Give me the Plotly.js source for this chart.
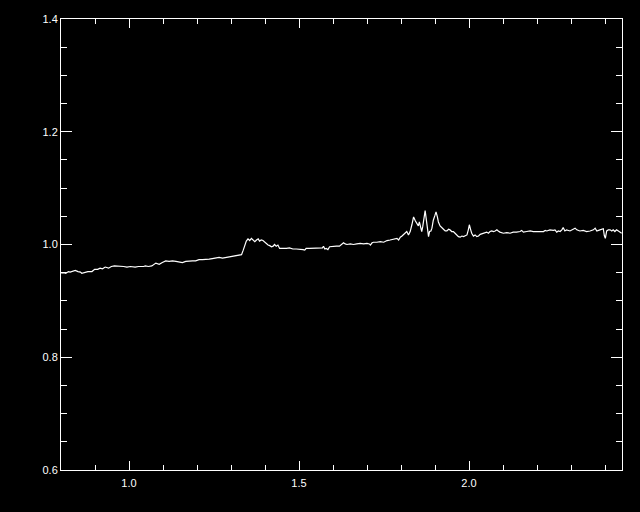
<!DOCTYPE html>
<html>
<head>
<meta charset="utf-8">
<script src="https://cdn.plot.ly/plotly-3.0.1.min.js"></script>
<style>html,body{margin:0;padding:0;background:#000;}#chart{width:640px;height:512px;}</style>
</head>
<body>
<div id="chart"></div>
<script>
// Wavelength (x) values
const wavelength = [
0.801,0.808,0.814,0.822,0.827,0.832,0.842,0.850,0.857,0.861,0.869,0.879,0.891,0.899,0.908,0.915,0.922,0.930,0.940,0.948,
0.957,0.964,0.974,0.984,0.994,1.004,1.018,1.028,1.043,1.048,1.057,1.067,1.079,1.089,1.098,1.108,1.118,1.128,1.138,1.148,
1.157,1.167,1.177,1.187,1.196,1.206,1.216,1.226,1.236,1.245,1.255,1.265,1.275,1.284,1.294,1.304,1.314,1.324,1.331,1.336,
1.339,1.343,1.345,1.350,1.355,1.360,1.365,1.370,1.375,1.380,1.384,1.389,1.394,1.399,1.404,1.409,1.414,1.419,1.424,1.428,
1.433,1.438,1.443,1.448,1.453,1.463,1.472,1.482,1.492,1.502,1.512,1.517,1.521,1.531,1.541,1.551,1.561,1.569,1.572,1.576,
1.580,1.585,1.590,1.600,1.610,1.619,1.626,1.631,1.636,1.641,1.651,1.660,1.670,1.680,1.690,1.700,1.707,1.710,1.715,1.719,
1.729,1.739,1.749,1.759,1.768,1.778,1.788,1.793,1.798,1.803,1.807,1.812,1.817,1.822,1.827,1.832,1.835,1.837,1.842,1.847,
1.851,1.854,1.858,1.861,1.864,1.866,1.869,1.871,1.873,1.876,1.879,1.881,1.884,1.888,1.891,1.895,1.900,1.903,1.907,1.910,
1.915,1.920,1.925,1.930,1.935,1.940,1.944,1.949,1.954,1.959,1.964,1.969,1.974,1.979,1.984,1.989,1.994,1.998,2.001,2.005,
2.008,2.013,2.018,2.023,2.028,2.033,2.042,2.052,2.057,2.062,2.067,2.072,2.077,2.082,2.086,2.091,2.101,2.111,2.121,2.130,
2.140,2.150,2.155,2.160,2.170,2.180,2.189,2.199,2.209,2.219,2.224,2.229,2.238,2.248,2.253,2.258,2.263,2.268,2.273,2.277,
2.282,2.287,2.297,2.307,2.312,2.317,2.326,2.336,2.346,2.356,2.366,2.371,2.376,2.385,2.395,2.398,2.401,2.405,2.410,2.415,
2.420,2.424,2.429,2.434,2.439,2.444,2.449
];
// Flux (y) values
const flux = [
0.949,0.950,0.949,0.952,0.951,0.952,0.954,0.952,0.951,0.949,0.950,0.952,0.952,0.956,0.956,0.958,0.957,0.960,0.958,0.961,
0.962,0.962,0.961,0.961,0.960,0.961,0.960,0.961,0.961,0.962,0.961,0.962,0.967,0.965,0.968,0.971,0.970,0.971,0.970,0.969,
0.968,0.970,0.971,0.971,0.971,0.973,0.973,0.973,0.974,0.975,0.976,0.977,0.976,0.977,0.978,0.980,0.980,0.981,0.982,0.990,
0.997,1.002,1.006,1.010,1.007,1.011,1.007,1.005,1.008,1.010,1.006,1.008,1.007,1.004,1.002,0.999,0.998,0.996,0.997,1.000,
0.997,0.999,0.993,0.993,0.992,0.993,0.994,0.992,0.992,0.992,0.991,0.990,0.993,0.993,0.993,0.993,0.994,0.994,0.997,0.992,
0.993,0.991,0.996,0.997,0.997,0.997,1.001,1.003,1.001,1.000,1.001,1.000,1.001,1.002,1.001,1.002,1.001,0.999,1.003,1.004,
1.004,1.005,1.004,1.007,1.008,1.009,1.011,1.008,1.013,1.015,1.017,1.020,1.023,1.017,1.023,1.035,1.043,1.049,1.042,1.038,
1.033,1.040,1.029,1.023,1.032,1.038,1.052,1.060,1.049,1.043,1.020,1.014,1.023,1.024,1.029,1.043,1.052,1.058,1.049,1.040,
1.033,1.029,1.027,1.024,1.024,1.027,1.026,1.023,1.023,1.020,1.017,1.014,1.013,1.015,1.014,1.015,1.017,1.026,1.035,1.026,
1.020,1.015,1.017,1.014,1.015,1.018,1.020,1.022,1.020,1.023,1.024,1.023,1.024,1.026,1.024,1.022,1.020,1.021,1.020,1.022,
1.022,1.023,1.025,1.022,1.023,1.024,1.023,1.023,1.022,1.023,1.025,1.024,1.026,1.025,1.026,1.022,1.024,1.023,1.026,1.030,
1.024,1.026,1.024,1.028,1.029,1.026,1.024,1.025,1.023,1.024,1.026,1.029,1.024,1.026,1.028,1.016,1.011,1.024,1.026,1.026,
1.024,1.026,1.023,1.026,1.024,1.022,1.020
];
const xRange = [0.8, 2.45];
const yRange = [0.6, 1.4];
const xTickVals = [1.0, 1.5, 2.0];
const xTickText = ['1.0', '1.5', '2.0'];
const yTickVals = [0.6, 0.8, 1.0, 1.2, 1.4];
const yTickText = ['0.6', '0.8', '1.0', '1.2', '1.4'];

const tickFont = {family: 'Liberation Sans, Arial, sans-serif', size: 11, color: '#ffffff'};

const trace = {
  x: wavelength, y: flux, type: 'scatter', mode: 'lines',
  line: {color: '#ffffff', width: 1.2}, hoverinfo: 'skip'
};

const layout = {
  width: 640, height: 512,
  paper_bgcolor: '#000000', plot_bgcolor: '#000000',
  margin: {l: 61, r: 18, t: 19, b: 42},
  showlegend: false,
  xaxis: {
    range: xRange, tickmode: 'array', tickvals: xTickVals, ticktext: xTickText,
    ticks: 'inside', ticklen: 9, tickwidth: 1, tickcolor: '#ffffff',
    showline: true, linecolor: '#ffffff', linewidth: 1, mirror: 'ticks',
    showgrid: false, zeroline: false, tickfont: tickFont, ticklabelstandoff: 3,
    minor: {dtick: 0.1, tick0: 0, ticks: 'inside', ticklen: 5, tickwidth: 1, tickcolor: '#ffffff', showgrid: false}
  },
  yaxis: {
    range: yRange, tickmode: 'array', tickvals: yTickVals, ticktext: yTickText,
    ticks: 'inside', ticklen: 11, tickwidth: 1, tickcolor: '#ffffff',
    showline: true, linecolor: '#ffffff', linewidth: 1, mirror: 'ticks',
    showgrid: false, zeroline: false, tickfont: tickFont,
    minor: {dtick: 0.05, tick0: 0, ticks: 'inside', ticklen: 6, tickwidth: 1, tickcolor: '#ffffff', showgrid: false}
  }
};

Plotly.newPlot('chart', [trace], layout, {staticPlot: true, displayModeBar: false});
</script>
</body>
</html>
